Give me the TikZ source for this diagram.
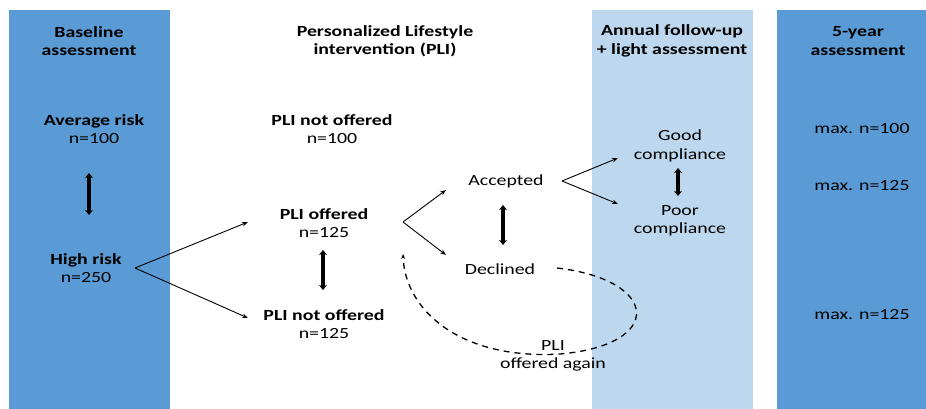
\documentclass[tikz,border=0pt]{standalone}
\usepackage{fontspec}
\setmainfont{Carlito}[FakeStretch=1.28]
\usetikzlibrary{arrows.meta}
\definecolor{darkb}{HTML}{5B9BD5}
\definecolor{lightb}{HTML}{BDD7EE}
\begin{document}
\begin{tikzpicture}[x=1pt,y=-1pt,
  txt/.style={align=center,font=\fontsize{15.5}{18.5}\selectfont,inner sep=1pt},
  btxt/.style={txt,font=\fontsize{15.5}{18.5}\selectfont\bfseries},
  arr/.style={-{Stealth[length=6pt,width=4.5pt]},line width=0.9pt},
  dbl/.style={{Stealth[length=5pt,width=8pt]}-{Stealth[length=5pt,width=8pt]},line width=3.2pt},
  dsh/.style={dashed,dash pattern=on 6pt off 5pt,line width=1.3pt,-{Stealth[length=5pt,width=4pt]}}]
\useasboundingbox (0,0) rectangle (926,409);
\fill[white] (0,0) rectangle (926,409);
\fill[darkb] (9,10) rectangle (170,409);
\fill[lightb] (592,10) rectangle (753,409);
\fill[darkb] (777,10) rectangle (926,409);
% headers
\node[btxt] (h1) at (89,41) {Baseline\\assessment};
\node[btxt] (h2) at (385,41) {Personalized Lifestyle\\intervention (PLI)};
\node[btxt] (h3) at (672,41) {Annual follow-up\\+ light assessment};
\node[btxt] (h4) at (858,41) {5-year\\assessment};
% left column
\node[txt] (avg) at (94,129) {\textbf{Average risk}\\n=100};
\node[txt] (high) at (86,268) {\textbf{High risk}\\n=250};
\coordinate (d1a) at (89,173);
\coordinate (d1b) at (89,215);
\draw[dbl] (d1a) -- (d1b);
% PLI column
\node[txt] (pno1) at (332,129) {\textbf{PLI not offered}\\n=100};
\node[txt] (po) at (324,223) {\textbf{PLI offered}\\n=125};
\node[txt] (pno2) at (324,324) {\textbf{PLI not offered}\\n=125};
\coordinate (hs) at (135,268);
\coordinate (poa) at (248,222);
\coordinate (pnoa) at (248,318);
\draw[arr] (hs) -- (poa);
\draw[arr] (hs) -- (pnoa);
\coordinate (d2a) at (323,250);
\coordinate (d2b) at (323,290);
\draw[dbl] (d2a) -- (d2b);
% accepted / declined
\node[txt] (acc) at (506,181) {Accepted};
\node[txt] (dec) at (500,269) {Declined};
\coordinate (ps) at (403,222);
\coordinate (acca) at (446,190);
\coordinate (deca) at (446,255);
\draw[arr] (ps) -- (acca);
\draw[arr] (ps) -- (deca);
\coordinate (d3a) at (503,205);
\coordinate (d3b) at (503,245);
\draw[dbl] (d3a) -- (d3b);
% compliance
\node[txt] (good) at (680,146) {Good\\compliance};
\node[txt] (poor) at (680,221) {Poor\\compliance};
\coordinate (as) at (562,181);
\coordinate (gooda) at (618,158);
\coordinate (poora) at (618,204);
\draw[arr] (as) -- (gooda);
\draw[arr] (as) -- (poora);
\coordinate (d4a) at (678,168);
\coordinate (d4b) at (678,196);
\draw[dbl] (d4a) -- (d4b);
% 5-year
\node[txt] (m1) at (862,129) {max. n=100};
\node[txt] (m2) at (862,186) {max. n=125};
\node[txt] (m3) at (862,315) {max. n=125};
% dashed loop
\node[txt] (again) at (553,356) {PLI\\offered again};
\coordinate (ls) at (557,268);
\coordinate (le) at (403,254);
\draw[dsh] (ls) .. controls (660,280) and (665,345) .. (560,354)
  .. controls (460,360) and (405,310) .. (le);
\end{tikzpicture}
\end{document}
